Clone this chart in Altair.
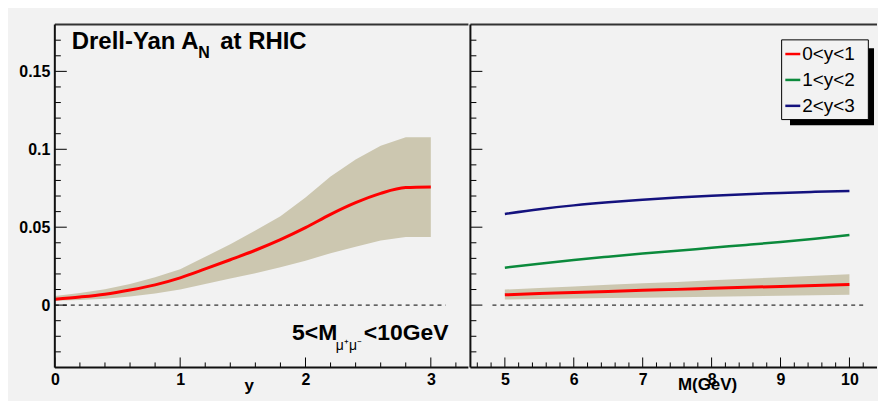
import altair as alt
import pandas as pd

FONT = "Liberation Sans"
BAND = "#ccc7b0"
BG = "#f2f2f2"
FRAME = "#111111"

# ---------------- data ----------------
# Left panel: A_N vs rapidity y (5 < M < 10 GeV)
y_vals = [0.0, 0.2, 0.4, 0.6, 0.8, 1.0, 1.2, 1.4, 1.6, 1.8, 2.0, 2.2, 2.4, 2.6, 2.8, 3.0]
an_y_central = [0.0038, 0.0052, 0.0070, 0.0097, 0.0130, 0.0175, 0.0232, 0.0291, 0.0352,
                0.0420, 0.0497, 0.0582, 0.0657, 0.0717, 0.0754, 0.0758]
an_y_upper = [0.0058, 0.0078, 0.0102, 0.0135, 0.0178, 0.0230, 0.0310, 0.0390, 0.0478,
              0.0570, 0.0690, 0.0825, 0.0935, 0.1022, 0.1077, 0.1077]
an_y_lower = [0.0028, 0.0033, 0.0041, 0.0055, 0.0075, 0.0100, 0.0136, 0.0170, 0.0205,
              0.0243, 0.0285, 0.0333, 0.0375, 0.0414, 0.0437, 0.0437]

# Right panel: A_N vs M (GeV)
m_vals = [5.0, 5.5, 6.0, 6.5, 7.0, 7.5, 8.0, 8.5, 9.0, 9.5, 10.0]
an_m_y01 = [0.0066, 0.0074, 0.0081, 0.0088, 0.0095, 0.0101, 0.0108, 0.0114, 0.0120, 0.0126, 0.0132]
an_m_y01_upper = [0.0100, 0.0110, 0.0120, 0.0130, 0.0140, 0.0149, 0.0159, 0.0169, 0.0179, 0.0188, 0.0198]
an_m_y01_lower = [0.0036, 0.0039, 0.0042, 0.0045, 0.0048, 0.0051, 0.0054, 0.0057, 0.0060, 0.0063, 0.0066]
an_m_y12 = [0.0240, 0.0266, 0.0290, 0.0311, 0.0331, 0.0349, 0.0368, 0.0386, 0.0405, 0.0426, 0.0450]
an_m_y23 = [0.0585, 0.0615, 0.0640, 0.0660, 0.0676, 0.0690, 0.0702, 0.0712, 0.0720, 0.0727, 0.0733]

series_names = ["0<y<1", "1<y<2", "2<y<3"]
series_colors = ["#ff0000", "#0b8a3c", "#14127e"]

# axes / ticks
y_domain = [-0.04, 0.18]
x_domain_left = [0.0, 3.3]
x_domain_right = [4.5, 10.4]
y_major = [0.0, 0.05, 0.1, 0.15]
y_minor = [round(-0.03 + 0.01 * i, 2) for i in range(21)]
y_minor = [v for v in y_minor if v not in y_major]
xl_major = [0, 1, 2, 3]
xl_minor = [round(0.2 * i, 1) for i in range(1, 17) if i % 5 != 0]
xr_major = [5, 6, 7, 8, 9, 10]
xr_minor = [round(4.6 + 0.2 * i, 1) for i in range(29)]
xr_minor = [v for v in xr_minor if abs(v - round(v)) > 1e-6 and v < 10.39]
zero_left = [0.0, 3.12]
zero_right = [4.82, 10.22]

WL, WR, H = 415, 408, 344

ys = alt.Scale(domain=y_domain, nice=False, zero=False)
xs_left = alt.Scale(domain=x_domain_left, nice=False, zero=False)
xs_right = alt.Scale(domain=x_domain_right, nice=False, zero=False)

lab = dict(labelFont=FONT, labelFontWeight="bold", labelFontSize=16, labelColor="black",
           ticks=False, domain=False, grid=False, title=None, labelFlush=False, labelOverlap=False)
ax_x_left = alt.Axis(values=xl_major, format="d", labelPadding=4, **lab)
ax_x_right = alt.Axis(values=xr_major, format="d", labelPadding=4, **lab)
ax_y_left = alt.Axis(values=y_major, format="~g", labelPadding=5, minExtent=47, maxExtent=47, **lab)


def one(**kw):
    return pd.DataFrame({k: [v] for k, v in kw.items()})


def text(t, x, y, size, weight="bold", align="left", baseline="alphabetic"):
    return alt.Chart(one(t=t)).mark_text(
        font=FONT, fontSize=size, fontWeight=weight, align=align, baseline=baseline, color="black"
    ).encode(text="t:N", x=alt.value(x), y=alt.value(y))


def seg(x1, x2, y1, y2, color=FRAME, width=2):
    return alt.Chart(one(k=1)).mark_rule(color=color, strokeWidth=width).encode(
        x=alt.value(x1), x2=alt.value(x2), y=alt.value(y1), y2=alt.value(y2))


def yticks(yaxis):
    out = []
    for vals, ln in ((y_major, 12), (y_minor, 6)):
        out.append(alt.Chart(pd.DataFrame({"v": vals})).mark_rule(color="black", strokeWidth=1).encode(
            y=alt.Y("v:Q", scale=ys, axis=yaxis), x=alt.value(0), x2=alt.value(ln)))
    return out


def xticks(major, minor, xscale, xaxis):
    out = []
    for vals, ln in ((major, 10), (minor, 5)):
        out.append(alt.Chart(pd.DataFrame({"v": vals})).mark_rule(color="black", strokeWidth=1).encode(
            x=alt.X("v:Q", scale=xscale, axis=xaxis), y=alt.value(H), y2=alt.value(H - ln)))
    return out


# ---------------- left panel ----------------
df_left = pd.DataFrame({"y": y_vals, "c": an_y_central, "hi": an_y_upper, "lo": an_y_lower})
band_l = alt.Chart(df_left).mark_area(color=BAND, opacity=1).encode(
    x=alt.X("y:Q", scale=xs_left, axis=ax_x_left),
    y=alt.Y("lo:Q", scale=ys, axis=ax_y_left), y2="hi:Q")
line_l = alt.Chart(df_left).mark_line(color=series_colors[0], strokeWidth=3, interpolate="monotone").encode(
    x=alt.X("y:Q", scale=xs_left, axis=ax_x_left),
    y=alt.Y("c:Q", scale=ys, axis=ax_y_left))
zero_l = alt.Chart(one(a=zero_left[0], b=zero_left[1], v=0.0)).mark_rule(
    color="black", strokeWidth=1, strokeDash=[4, 4]).encode(
    x=alt.X("a:Q", scale=xs_left, axis=ax_x_left), x2="b:Q",
    y=alt.Y("v:Q", scale=ys, axis=ax_y_left))

left_layers = [band_l, zero_l, line_l] + yticks(ax_y_left) + xticks(xl_major, xl_minor, xs_left, ax_x_left) + [
    seg(0, WL, 0, 0, color="#333333", width=2),
    seg(0, WL, H, H),
    seg(0, 0, 0, H),
    text("Drell-Yan A", 17, 24, 24),
    text("N", 144, 33, 16),
    text("at RHIC", 166, 24, 24),
    text("5<M", 238, 316, 23),
    text("μ⁺μ⁻", 282, 326, 14, weight="normal"),
    text("<10GeV", 310, 316, 23),
    text("y", 195, 368, 17, align="center"),
]
left = alt.layer(*left_layers).properties(width=WL, height=H)

# ---------------- right panel ----------------
rows = []
for name, vals in zip(series_names, [an_m_y01, an_m_y12, an_m_y23]):
    for m, v in zip(m_vals, vals):
        rows.append({"m": m, "v": v, "s": name})
df_lines = pd.DataFrame(rows)
df_band_r = pd.DataFrame({"m": m_vals, "hi": an_m_y01_upper, "lo": an_m_y01_lower})

band_r = alt.Chart(df_band_r).mark_area(color=BAND, opacity=1).encode(
    x=alt.X("m:Q", scale=xs_right, axis=ax_x_right),
    y=alt.Y("lo:Q", scale=ys, axis=None), y2="hi:Q")
lines_r = alt.Chart(df_lines).mark_line(interpolate="monotone").encode(
    x=alt.X("m:Q", scale=xs_right, axis=ax_x_right),
    y=alt.Y("v:Q", scale=ys, axis=None),
    color=alt.Color("s:N", scale=alt.Scale(domain=series_names, range=series_colors), legend=None),
    strokeWidth=alt.condition(alt.datum.s == series_names[0], alt.value(3), alt.value(2.5)))
zero_r = alt.Chart(one(a=zero_right[0], b=zero_right[1], v=0.0)).mark_rule(
    color="black", strokeWidth=1, strokeDash=[4, 4]).encode(
    x=alt.X("a:Q", scale=xs_right, axis=ax_x_right), x2="b:Q",
    y=alt.Y("v:Q", scale=ys, axis=None))

# legend box with shadow
shadow = alt.Chart(one(k=1)).mark_rect(color="black").encode(
    x=alt.value(320.7), x2=alt.value(405), y=alt.value(23.7), y2=alt.value(101))
box = alt.Chart(one(k=1)).mark_rect(fill=BG, stroke="black", strokeWidth=1).encode(
    x=alt.value(312.3), x2=alt.value(399.3), y=alt.value(15.3), y2=alt.value(95.3))
legend_layers = [shadow, box]
for i, (name, col) in enumerate(zip(series_names, series_colors)):
    yy = 29.5 + 26 * i
    legend_layers.append(alt.Chart(one(k=1)).mark_rule(color=col, strokeWidth=2.5).encode(
        x=alt.value(316), x2=alt.value(331), y=alt.value(yy)))
    legend_layers.append(text(name, 333, yy + 0.5, 19, weight="normal", baseline="middle"))

right_layers = [band_r, zero_r, lines_r] + yticks(None) + xticks(xr_major, xr_minor, xs_right, ax_x_right) + [
    seg(0, WR, 0, 0, color="#333333", width=2),
    seg(0, WR, H, H),
    seg(0, 0, 0, H),
] + legend_layers + [text("M(GeV)", 238, 367, 17, align="center")]
right = alt.layer(*right_layers).properties(width=WR, height=H)

chart = alt.hconcat(left, right, spacing=0).properties(
    background=BG,
    padding={"left": 0, "top": 15, "right": 0, "bottom": 6},
).configure_view(stroke=None).configure_concat(spacing=0)

chart.save("out.html", embed_options={"renderer": "svg", "actions": False})
